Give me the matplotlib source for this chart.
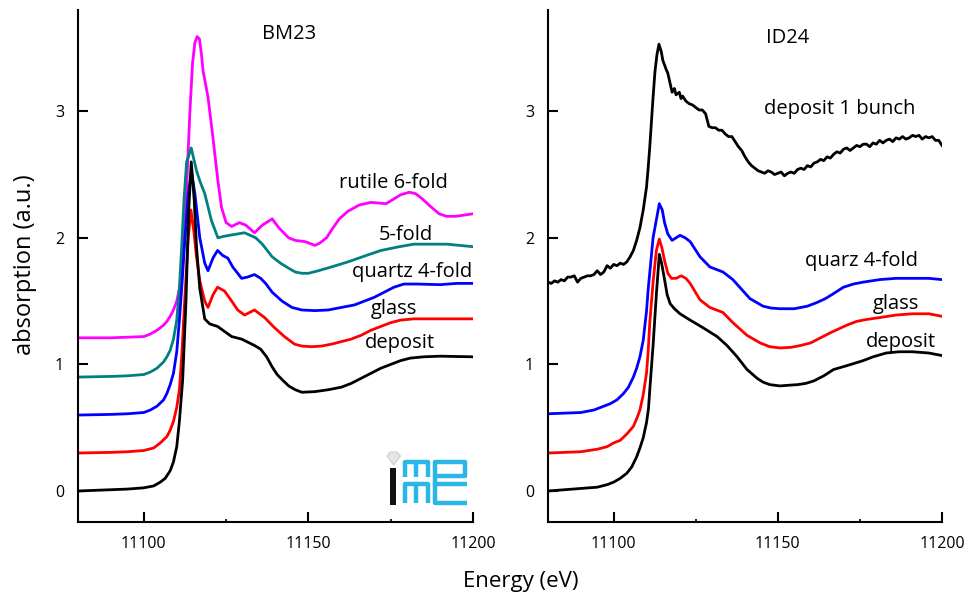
import matplotlib
matplotlib.use("Agg")
import matplotlib.pyplot as plt
from matplotlib.lines import Line2D
from matplotlib.patches import Polygon, Rectangle

plt.rcParams['font.family'] = ['Open Sans', 'DejaVu Sans']

# ---------------- BM23 panel data ----------------
bm_dep_E = [11080, 11090, 11095, 11100, 11103, 11105, 11106.5, 11108, 11109, 11110, 11110.8, 11111.8,
            11112.8, 11113.6, 11114.4, 11115.3, 11116, 11117, 11118.5, 11120, 11122.4, 11124,
            11126.7, 11129.7, 11133.6, 11135.5, 11137.3, 11139, 11140.5, 11142, 11144, 11146,
            11148, 11152, 11156, 11160, 11163, 11166, 11169, 11172, 11175, 11178, 11181, 11185,
            11190, 11200]
bm_dep_v = [0.00, 0.01, 0.015, 0.025, 0.04, 0.07, 0.10, 0.16, 0.23, 0.35, 0.55, 0.88,
            1.5, 2.2, 2.60, 2.30, 1.93, 1.60, 1.36, 1.32, 1.30, 1.27,
            1.22, 1.20, 1.15, 1.12, 1.06, 0.98, 0.92, 0.88, 0.83, 0.80,
            0.78, 0.785, 0.80, 0.82, 0.85, 0.89, 0.93, 0.97, 1.00, 1.03, 1.05, 1.06,
            1.065, 1.06]

bm_gl_E = [11080, 11090, 11095, 11100, 11103, 11105, 11107, 11108, 11109, 11110, 11110.8, 11111.5,
           11112.5, 11113.5, 11114.3, 11115.2, 11116, 11117, 11118.5, 11119.5, 11121, 11122.4,
           11124.5, 11126.7, 11128.5, 11130.6, 11133.6, 11136.7, 11139.7, 11142.7, 11145.8,
           11148, 11151, 11154, 11157, 11160, 11163, 11166, 11169, 11172, 11175, 11178, 11182,
           11190, 11200]
bm_gl_v = [0.30, 0.305, 0.31, 0.32, 0.34, 0.38, 0.43, 0.48, 0.55, 0.66, 0.80, 1.06,
           1.55, 2.0, 2.22, 2.05, 1.85, 1.66, 1.50, 1.45, 1.55, 1.61,
           1.58, 1.50, 1.43, 1.39, 1.43, 1.37, 1.29, 1.22, 1.16,
           1.145, 1.14, 1.145, 1.16, 1.18, 1.20, 1.23, 1.27, 1.30, 1.33, 1.35, 1.36,
           1.36, 1.36]

bm_qz_E = [11080, 11090, 11095, 11100, 11102, 11104, 11106, 11107, 11108, 11109, 11110, 11110.8,
           11111.5, 11112.5, 11113.5, 11114.5, 11115.5, 11117, 11118.5, 11119.5, 11121, 11122.4,
           11124, 11125.5, 11127, 11129.7, 11131.5, 11133.6, 11135.5, 11137, 11139, 11142,
           11145, 11148, 11152, 11156, 11160, 11164, 11167, 11170, 11173, 11176, 11179, 11183,
           11190, 11195, 11200]
bm_qz_v = [0.60, 0.605, 0.61, 0.62, 0.64, 0.67, 0.72, 0.77, 0.84, 0.93, 1.10, 1.35,
           1.6, 2.0, 2.35, 2.52, 2.35, 2.0, 1.80, 1.74, 1.84, 1.90,
           1.86, 1.84, 1.77, 1.68, 1.69, 1.71, 1.68, 1.64, 1.57, 1.50,
           1.45, 1.43, 1.425, 1.43, 1.45, 1.47, 1.50, 1.53, 1.57, 1.61, 1.635, 1.635,
           1.63, 1.64, 1.64]

bm_5f_E = [11080, 11090, 11095, 11100, 11102, 11104, 11106, 11107, 11108, 11109, 11110, 11110.8,
           11111.5, 11112.2, 11113, 11114.4, 11116, 11117, 11118.5, 11120.5, 11122.5, 11124,
           11126, 11130.6, 11134, 11136, 11139, 11141.5, 11144, 11146, 11148, 11150, 11153,
           11157, 11162, 11167.5, 11172, 11177.6, 11182, 11186, 11192, 11200]
bm_5f_v = [0.90, 0.905, 0.91, 0.92, 0.94, 0.97, 1.02, 1.06, 1.11, 1.20, 1.35, 1.60,
           1.93, 2.3, 2.6, 2.71, 2.53, 2.45, 2.35, 2.14, 2.00, 2.01,
           2.02, 2.04, 2.00, 1.95, 1.85, 1.80, 1.76, 1.73, 1.72, 1.72, 1.74,
           1.77, 1.81, 1.86, 1.90, 1.93, 1.95, 1.95, 1.95, 1.93]

bm_6f_E = [11080, 11090, 11095, 11100, 11102, 11104, 11106, 11107, 11108, 11109, 11110, 11111,
           11112, 11113, 11114, 11114.8, 11115.5, 11116.2, 11116.9, 11117.5, 11118, 11119.5,
           11121, 11122.5, 11123.6, 11125, 11126.7, 11129, 11131, 11133.6, 11136, 11139, 11141,
           11144, 11146, 11149, 11152, 11153.5, 11155.5, 11157.5, 11159.4, 11162, 11165.5,
           11169, 11173.6, 11175.5, 11178, 11180.6, 11182.5, 11184.5, 11187, 11189.7, 11192,
           11194.8, 11200]
bm_6f_v = [1.21, 1.21, 1.215, 1.22, 1.24, 1.27, 1.31, 1.34, 1.38, 1.43, 1.50, 1.62,
           1.85, 2.4, 3.0, 3.38, 3.54, 3.59, 3.57, 3.45, 3.32, 3.11,
           2.79, 2.45, 2.24, 2.12, 2.09, 2.12, 2.10, 2.04, 2.10, 2.15, 2.08,
           2.00, 1.98, 1.97, 1.94, 1.96, 2.00, 2.08, 2.15, 2.21, 2.26,
           2.28, 2.27, 2.30, 2.34, 2.36, 2.35, 2.31, 2.25, 2.19, 2.17,
           2.17, 2.19]

# ---------------- ID24 panel data ----------------
id_dep_E = [11080, 11085, 11090, 11095, 11098, 11100, 11102, 11104, 11105.5, 11107, 11108, 11109,
            11110, 11110.6, 11111, 11112, 11113, 11113.9, 11114.6, 11115.5, 11116.3, 11117.2,
            11118.5, 11120.2, 11123.3, 11127.2, 11131.5, 11134.5, 11137.6, 11140.6, 11143.7,
            11145.5, 11147.6, 11150.7, 11153, 11156, 11158.5, 11161, 11164, 11167, 11171,
            11176, 11179, 11183, 11187, 11191, 11196, 11200]
id_dep_v = [0.00, 0.01, 0.02, 0.03, 0.05, 0.07, 0.10, 0.14, 0.19, 0.27, 0.34, 0.42,
            0.54, 0.65, 0.80, 1.15, 1.55, 1.87, 1.80, 1.67, 1.55, 1.48,
            1.44, 1.40, 1.35, 1.29, 1.22, 1.15, 1.06, 0.96, 0.89,
            0.86, 0.84, 0.83, 0.835, 0.84, 0.85, 0.87, 0.91, 0.96, 0.99,
            1.03, 1.06, 1.09, 1.10, 1.10, 1.09, 1.07]

id_gl_E = [11080, 11085, 11090, 11095, 11098, 11100, 11102, 11104, 11105, 11106, 11107, 11108,
           11109, 11110, 11110.5, 11111, 11112, 11113, 11113.9, 11114.7, 11115.5, 11116.5,
           11117.6, 11119, 11120.6, 11122, 11123.3, 11126.3, 11129.3, 11133.3, 11136.3,
           11140.6, 11144.6, 11147.5, 11150.7, 11154, 11157, 11160, 11163, 11166, 11168.5,
           11171, 11174, 11177, 11181, 11186, 11191, 11196, 11200]
id_gl_v = [0.30, 0.305, 0.31, 0.33, 0.35, 0.38, 0.40, 0.45, 0.48, 0.51, 0.57, 0.64,
           0.76, 0.93, 1.10, 1.33, 1.65, 1.90, 1.99, 1.92, 1.82, 1.72,
           1.68, 1.68, 1.70, 1.68, 1.64, 1.51, 1.45, 1.41, 1.33,
           1.23, 1.17, 1.14, 1.13, 1.135, 1.15, 1.17, 1.21, 1.25, 1.28,
           1.31, 1.34, 1.355, 1.37, 1.39, 1.40, 1.40, 1.38]

id_qz_E = [11080, 11085, 11090, 11094, 11097, 11099, 11101, 11103, 11104.5, 11106, 11107, 11108,
           11109, 11110, 11110.5, 11112, 11113.9, 11114.8, 11115.5, 11116.5, 11117.8, 11119,
           11120.2, 11121.8, 11123.3, 11126.3, 11129.3, 11133.3, 11136.3, 11141.5, 11143.5,
           11145.5, 11148, 11150.7, 11155, 11159, 11162, 11164.5, 11167, 11170, 11173, 11176,
           11181, 11186, 11191, 11196, 11200]
id_qz_v = [0.61, 0.615, 0.62, 0.64, 0.67, 0.69, 0.72, 0.77, 0.82, 0.90, 0.97, 1.06,
           1.19, 1.42, 1.59, 2.0, 2.27, 2.22, 2.12, 2.03, 1.98, 2.00,
           2.02, 2.00, 1.97, 1.85, 1.77, 1.73, 1.67, 1.52, 1.49,
           1.46, 1.445, 1.44, 1.44, 1.46, 1.49, 1.52, 1.56, 1.61, 1.635, 1.65,
           1.67, 1.68, 1.68, 1.68, 1.67]

id_1b_E = [11080, 11081, 11082, 11083, 11084, 11085, 11086, 11087, 11088, 11089, 11090, 11091,
           11092, 11093, 11094, 11095, 11096, 11097, 11098, 11099, 11100, 11101, 11102, 11103,
           11104, 11105, 11106, 11107, 11108, 11109, 11110, 11110.5, 11111, 11111.5, 11112,
           11112.6, 11113.2, 11113.8, 11114.5, 11115, 11116, 11116.5, 11117.2, 11117.8, 11118.5,
           11119, 11120, 11120.5, 11121, 11122, 11123, 11124, 11125, 11126, 11127, 11128, 11129,
           11130, 11131, 11132, 11133, 11134, 11135, 11136, 11137, 11138, 11139, 11140, 11141,
           11142, 11143, 11144, 11145, 11146, 11147, 11148, 11149, 11150, 11151, 11152, 11153,
           11154, 11155, 11156, 11157, 11158, 11159, 11160, 11161, 11162, 11163, 11164, 11165,
           11166, 11167, 11168, 11169, 11170, 11171, 11172, 11173, 11174, 11175, 11176, 11177,
           11178, 11179, 11180, 11181, 11182, 11183, 11184, 11185, 11186, 11187, 11188, 11189,
           11190, 11191, 11192, 11193, 11194, 11195, 11196, 11197, 11198, 11199, 11200]
id_1b_v = [1.65, 1.64, 1.66, 1.65, 1.67, 1.66, 1.69, 1.69, 1.70, 1.65, 1.68, 1.69,
           1.70, 1.70, 1.71, 1.74, 1.71, 1.73, 1.78, 1.76, 1.79, 1.78, 1.80, 1.79,
           1.81, 1.85, 1.90, 1.98, 2.08, 2.22, 2.40, 2.55, 2.72, 2.92, 3.11,
           3.32, 3.45, 3.53, 3.47, 3.40, 3.33, 3.30, 3.22, 3.15, 3.18,
           3.13, 3.15, 3.10, 3.12, 3.08, 3.06, 3.05, 3.03, 3.01, 3.01, 2.98, 2.88,
           2.87, 2.87, 2.85, 2.85, 2.82, 2.80, 2.80, 2.76, 2.72, 2.69, 2.64, 2.60,
           2.57, 2.55, 2.53, 2.52, 2.51, 2.53, 2.52, 2.50, 2.51, 2.52, 2.49, 2.51,
           2.52, 2.51, 2.54, 2.55, 2.54, 2.57, 2.56, 2.59, 2.60, 2.62, 2.61, 2.64,
           2.63, 2.66, 2.68, 2.67, 2.70, 2.71, 2.69, 2.71, 2.73, 2.72, 2.74, 2.74,
           2.72, 2.75, 2.74, 2.77, 2.75, 2.77, 2.78, 2.76, 2.79, 2.78, 2.80, 2.78,
           2.79, 2.81, 2.80, 2.81, 2.78, 2.80, 2.79, 2.80, 2.77, 2.77, 2.73]

x_ticks = [11100, 11150, 11200]
x_minor = [11125, 11175]
y_ticks = [0, 1, 2, 3]

C_MAG = '#FF00FF'
C_TEAL = '#008080'
C_BLUE = '#0000FF'
C_RED = '#FF0000'
C_BLK = '#000000'

W, H = 979, 595
fig = plt.figure(figsize=(W / 100, H / 100), dpi=100)

def ax_rect(x0, x1, y0, y1):
    return [x0 / W, 1 - y1 / H, (x1 - x0) / W, (y1 - y0) / H]

axL = fig.add_axes(ax_rect(78, 473, 10, 522))
axR = fig.add_axes(ax_rect(548, 942, 10, 522))

lw = 2.0
kw = dict(lw=lw, solid_joinstyle='round')
axL.plot(bm_6f_E, bm_6f_v, color=C_MAG, **kw)
axL.plot(bm_5f_E, bm_5f_v, color=C_TEAL, **kw)
axL.plot(bm_qz_E, bm_qz_v, color=C_BLUE, **kw)
axL.plot(bm_gl_E, bm_gl_v, color=C_RED, **kw)
axL.plot(bm_dep_E, bm_dep_v, color=C_BLK, **kw)

axR.plot(id_1b_E, id_1b_v, color=C_BLK, **kw)
axR.plot(id_qz_E, id_qz_v, color=C_BLUE, **kw)
axR.plot(id_gl_E, id_gl_v, color=C_RED, **kw)
axR.plot(id_dep_E, id_dep_v, color=C_BLK, **kw)

for ax in (axL, axR):
    ax.set_xlim(11080, 11200)
    ax.set_ylim(-0.245, 3.80)
    ax.set_xticks(x_ticks)
    ax.set_xticks(x_minor, minor=True)
    ax.set_yticks(y_ticks)
    ax.spines['top'].set_visible(False)
    ax.spines['right'].set_visible(False)
    for s in ('left', 'bottom'):
        ax.spines[s].set_linewidth(1.5)
    ax.tick_params(axis='both', which='major', direction='in', length=7.5, width=1.5,
                   labelsize=11.5, pad=10)
    ax.tick_params(axis='x', which='major', pad=10)
    ax.tick_params(axis='x', which='minor', direction='in', length=2, width=1.2)
    ax.patch.set_alpha(0)

fs = 14.5
axL.text(11144.2, 3.61, 'BM23', fontsize=fs, ha='center', va='center')
axL.text(11159.4, 2.43, 'rutile 6-fold', fontsize=fs, ha='left', va='center')
axL.text(11179.7, 2.02, '5-fold', fontsize=fs, ha='center', va='center')
axL.text(11199.7, 1.73, 'quartz 4-fold', fontsize=fs, ha='right', va='center')
axL.text(11176.0, 1.44, 'glass', fontsize=fs, ha='center', va='center')
axL.text(11177.9, 1.17, 'deposit', fontsize=fs, ha='center', va='center')

axR.text(11153.1, 3.58, 'ID24', fontsize=fs, ha='center', va='center')
axR.text(11168.8, 3.02, 'deposit 1 bunch', fontsize=fs, ha='center', va='center')
axR.text(11175.6, 1.82, 'quarz 4-fold', fontsize=fs, ha='center', va='center')
axR.text(11186.0, 1.48, 'glass', fontsize=fs, ha='center', va='center')
axR.text(11187.5, 1.18, 'deposit', fontsize=fs, ha='center', va='center')

fig.text(25 / W, 1 - 265 / H, 'absorption (a.u.)', rotation=90, fontsize=17,
         ha='center', va='center')
fig.text(521 / W, 1 - 582 / H, 'Energy (eV)', fontsize=16, ha='center', va='center')

# ---- logo (decoration) in figure pixel coordinates ----
def P(x, y):
    return (x / W, 1 - y / H)

tf = fig.transFigure
fig.add_artist(Polygon([P(387, 456), P(390.5, 452), P(397, 452), P(400.5, 456), P(393.7, 465)],
                       closed=True, facecolor='#e6e6e6', edgecolor='#cfcfcf', lw=0.8, transform=tf))
fig.add_artist(Rectangle(P(390, 505), 6 / W, 37 / H, facecolor='#111111', edgecolor='none', transform=tf))
cy = '#2bb6e8'
strokes = [
    [(405, 477), (405, 462), (428, 462), (428, 477)],
    [(416.5, 462), (416.5, 477)],
    [(435, 486), (435, 462), (465, 462), (465, 476), (435, 476)],
    [(405, 503), (405, 484), (428, 484), (428, 503)],
    [(416.5, 484), (416.5, 503)],
    [(467, 484), (435, 484), (435, 503), (467, 503)],
]
for s in strokes:
    xs = [p[0] / W for p in s]
    ys = [1 - p[1] / H for p in s]
    fig.add_artist(Line2D(xs, ys, color=cy, lw=3.2, solid_joinstyle='round',
                          solid_capstyle='butt', transform=tf))

fig.savefig('out.png', dpi=100)
